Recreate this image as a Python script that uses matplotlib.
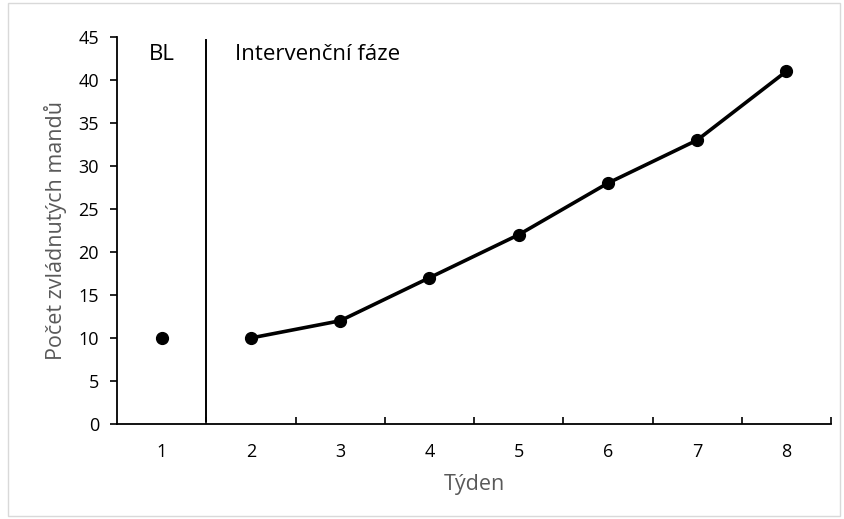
import matplotlib.pyplot as plt
import numpy as np
from matplotlib.patches import Rectangle

plt.rcParams['font.family'] = ['Open Sans', 'DejaVu Sans']

# Data
bl_weeks = [1]
bl_values = [10]
int_weeks = [2, 3, 4, 5, 6, 7, 8]
int_values = [10, 12, 17, 22, 28, 33, 41]
week_labels = ["1", "2", "3", "4", "5", "6", "7", "8"]
y_ticks = [0, 5, 10, 15, 20, 25, 30, 35, 40, 45]

fig = plt.figure(figsize=(8.45, 5.19), dpi=100)
ax = fig.add_axes([0.1385, 0.183, 0.845, 0.746])

# light chart-area border
fig.patches.append(Rectangle((0.009, 0.005), 0.985, 0.99, transform=fig.transFigure,
                             fill=False, edgecolor="#d9d9d9", linewidth=1.0))

ax.plot(bl_weeks, bl_values, "o", color="black", markersize=8.5)
ax.plot(int_weeks, int_values, "-o", color="black", linewidth=2.6, markersize=8.5)

# phase change line
ax.plot([1.5, 1.5], [0.3, 44.6], color="black", linewidth=1.4)
ax.text(1.0, 43.0, "BL", fontsize=16, ha="center", va="center")
ax.text(1.82, 43.0, "Intervenční fáze", fontsize=16, ha="left", va="center")

ax.set_xlim(0.5, 8.5)
ax.set_ylim(0, 45)
ax.set_xticks(np.arange(1, 9))
ax.set_xticklabels(week_labels)
ax.set_xticks(np.arange(1.5, 9.0, 1.0), minor=True)
ax.set_yticks(y_ticks)

ax.tick_params(axis="x", which="major", length=0, pad=14, labelsize=13)
ax.tick_params(axis="x", which="minor", direction="in", length=5, width=1.2)
ax.tick_params(axis="y", direction="out", length=5, width=1.2, pad=8, labelsize=13)

for s in ["top", "right"]:
    ax.spines[s].set_visible(False)
for s in ["left", "bottom"]:
    ax.spines[s].set_linewidth(1.3)

ax.set_xlabel("Týden", fontsize=15.5, color="#595959", labelpad=9)
ax.set_ylabel("Počet zvládnutých mandů", fontsize=15.5, color="#595959", labelpad=8)

fig.savefig("out.png", dpi=100)
